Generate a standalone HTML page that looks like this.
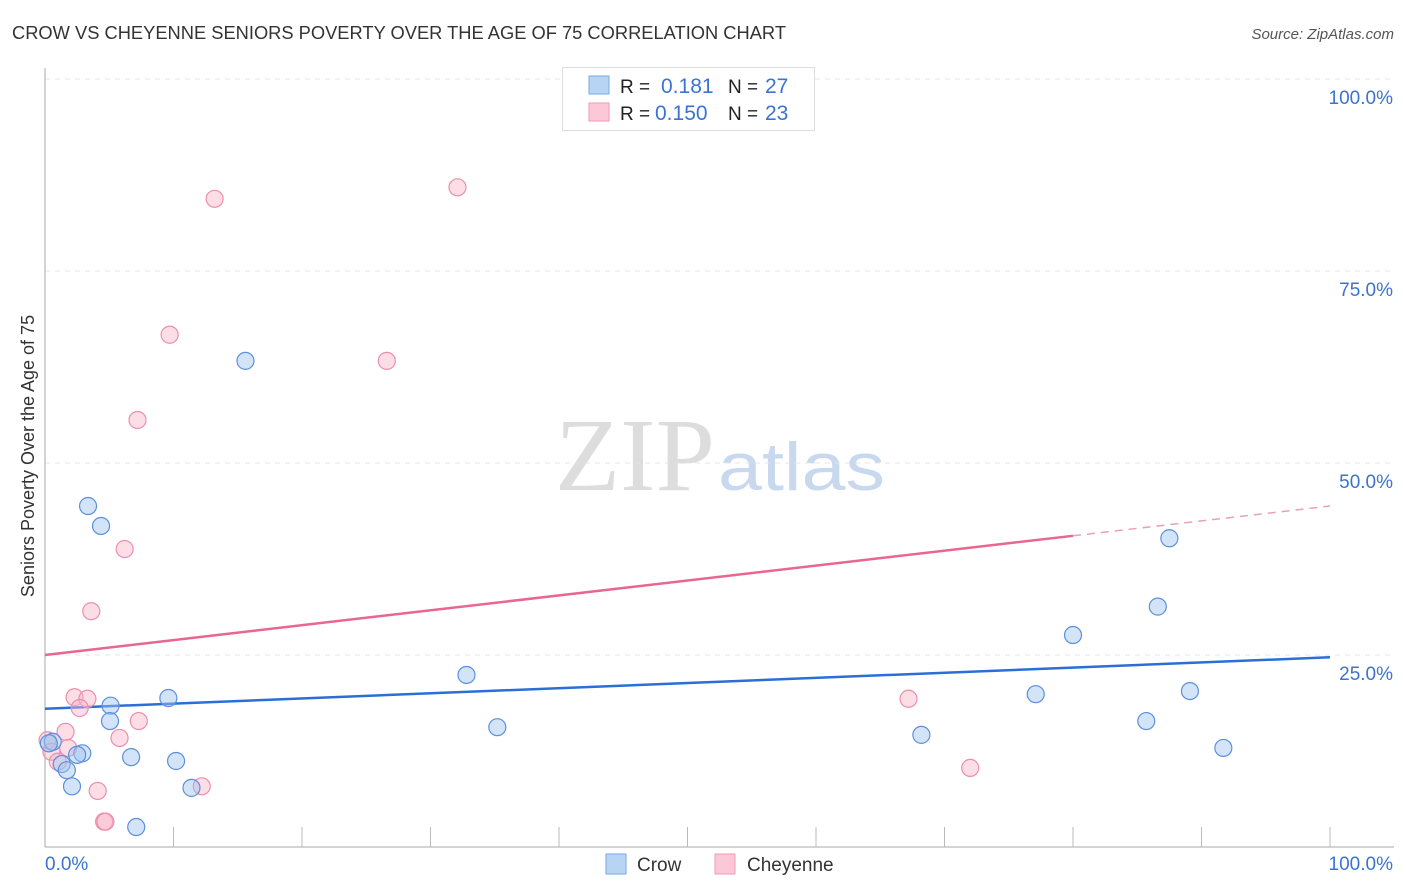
<!DOCTYPE html>
<html><head><meta charset="utf-8"><style>
body{margin:0;background:#fff;font-family:"Liberation Sans",sans-serif;}
svg{display:block}
</style></head><body>
<svg id="chart" width="1406" height="892">
<text x="12" y="39" font-size="18" fill="#333" textLength="774" lengthAdjust="spacingAndGlyphs">CROW VS CHEYENNE SENIORS POVERTY OVER THE AGE OF 75 CORRELATION CHART</text>
<text x="1394" y="39" font-size="15" fill="#555" font-style="italic" text-anchor="end">Source: ZipAtlas.com</text>
<text x="0" y="0" transform="translate(34,456) rotate(-90)" font-size="18" fill="#333" text-anchor="middle">Seniors Poverty Over the Age of 75</text>
<text x="555" y="490" font-size="104" fill="#ddd" font-family="Liberation Serif,serif" textLength="160" lengthAdjust="spacingAndGlyphs">ZIP</text>
<text x="718" y="490" font-size="68" fill="#c8d8ee" textLength="167" lengthAdjust="spacingAndGlyphs">atlas</text>
<g id="grid"></g>
<g id="axes"></g>
<g id="lines"></g>
<g id="pts"></g>
<g>
<rect x="562.5" y="67.5" width="252" height="63" fill="#fff" stroke="#ddd"/>
<rect x="589" y="76" width="20" height="18" fill="#b8d4f5" stroke="#7aaae6"/>
<rect x="589" y="103" width="20" height="18" fill="#fcc8d8" stroke="#f09ab5"/>
<text x="620" y="93" font-size="19" fill="#222">R = </text><text x="661" y="93" font-size="21" fill="#3a74d0">0.181</text>
<text x="728" y="93" font-size="19" fill="#222">N = </text><text x="765" y="93" font-size="21" fill="#3a74d0">27</text>
<text x="620" y="120" font-size="19" fill="#222">R = </text><text x="655" y="120" font-size="21" fill="#3a74d0">0.150</text>
<text x="728" y="120" font-size="19" fill="#222">N = </text><text x="765" y="120" font-size="21" fill="#3a74d0">23</text>
</g>
<g>
<rect x="606" y="854" width="20" height="20" fill="#b8d4f5" stroke="#7aaae6"/>
<text x="637" y="871" font-size="19" fill="#333">Crow</text>
<rect x="715" y="854" width="20" height="20" fill="#fcc8d8" stroke="#f09ab5"/>
<text x="747" y="871" font-size="19" fill="#333">Cheyenne</text>
</g>
</svg>
<script>
const crowX=[3.35,4.36,15.6,5.1,5.06,9.6,0.6,2.9,2.5,1.3,1.7,2.1,6.7,10.2,11.4,7.1,32.8,35.2,68.2,77.1,80,85.7,86.6,87.5,89.1,91.7,0.3];
const crowY=[44.4,41.8,63.3,18.4,16.4,19.4,13.7,12.2,12.0,10.8,10.0,7.9,11.7,11.2,7.7,2.6,22.4,15.6,14.6,19.9,27.6,16.4,31.3,40.2,20.3,12.9,13.5];
const cheyX=[13.2,32.1,9.7,26.6,7.2,6.2,3.6,2.3,3.3,2.7,7.3,5.8,1.6,0.2,1.8,0.5,1.0,4.1,12.2,4.6,4.7,67.2,72];
const cheyY=[84.4,85.9,66.7,63.3,55.6,38.8,30.7,19.5,19.3,18.1,16.4,14.2,15.0,13.9,12.9,12.4,11.1,7.3,7.9,3.3,3.3,19.3,10.3];
const crowTrend=[18.0,24.7];
const cheyTrend=[25.0,44.4];
const cheySolidEnd=80;
const yTicks=[25,50,75,100];
const xTickCount=10;
const ns="http://www.w3.org/2000/svg";
const xs=v=>45+12.85*v, ys=v=>847-7.68*v;
function mk(tag,attrs,parent){const e=document.createElementNS(ns,tag);for(const k in attrs)e.setAttribute(k,attrs[k]);document.getElementById(parent).appendChild(e);return e;}
yTicks.forEach(t=>{
 const g=mk('line',{x1:45,x2:1394,y1:ys(t),y2:ys(t),stroke:'#e4e4e4','stroke-dasharray':'5,5'},'grid');
 
 
 const l=mk('text',{x:1393,y:ys(t)+25,'font-size':19,fill:'#3a74d0','text-anchor':'end'},'grid');
 l.textContent=t.toFixed(1)+'%';
 
 
});
const ya=mk('line',{x1:45,x2:45,y1:68,y2:847,stroke:'#aaa'},'axes');


const xa=mk('line',{x1:45,x2:1394,y1:847,y2:847,stroke:'#aaa'},'axes');


for(let i=1;i<=xTickCount;i++){const t=mk('line',{x1:xs(i*10),x2:xs(i*10),y1:827,y2:847,stroke:'#bbb'},'axes');
 
 }
const l0=mk('text',{x:45,y:870,'font-size':19,fill:'#3a74d0'},'axes');l0.textContent='0.0%';


const l1=mk('text',{x:1393,y:870,'font-size':19,fill:'#3a74d0','text-anchor':'end'},'axes');l1.textContent='100.0%';


const bt=mk('line',{x1:xs(0),y1:ys(crowTrend[0]),x2:xs(100),y2:ys(crowTrend[1]),stroke:'#2a6fd6','stroke-width':2.5},'lines');


const pe=cheyTrend[0]+(cheyTrend[1]-cheyTrend[0])*cheySolidEnd/100;
const pt=mk('line',{x1:xs(0),y1:ys(cheyTrend[0]),x2:xs(cheySolidEnd),y2:ys(pe),stroke:'#e8668f','stroke-width':2.5},'lines');


const pd=mk('line',{x1:xs(cheySolidEnd),y1:ys(pe),x2:xs(100),y2:ys(cheyTrend[1]),stroke:'#e8a0b8','stroke-width':1.5,'stroke-dasharray':'8,6'},'lines');


cheyX.forEach((x,i)=>{const c=mk('circle',{cx:xs(x),cy:ys(cheyY[i]),r:8.5,fill:'rgba(250,180,200,0.45)',stroke:'#eb8fae','stroke-width':1.2},'pts');
 
 });
crowX.forEach((x,i)=>{const c=mk('circle',{cx:xs(x),cy:ys(crowY[i]),r:8.5,fill:'rgba(160,195,240,0.45)',stroke:'#5b90dc','stroke-width':1.2},'pts');
 
 });
</script>
</body></html>
